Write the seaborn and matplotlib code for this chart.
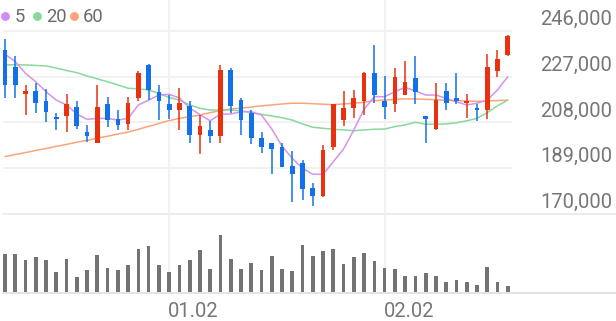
import matplotlib
matplotlib.use("Agg")
import matplotlib.pyplot as plt
from matplotlib.lines import Line2D
import seaborn as sns
import numpy as np
import pandas as pd

# ---------------- data ----------------
opens  = [238000, 231000, 220000, 221000, 217000, 210000, 210500, 214500, 204000, 199500,
          215500, 209500, 207500, 218000, 232000, 220500, 215500, 213000, 215000, 203000,
          205000, 202500, 230000, 217500, 212000, 201500, 199500, 198000, 190000, 191000,
          181000, 177500, 198000, 209000, 214000, 217000, 228500, 217000, 215500, 219500,
          226500, 210500, 205500, 221000, 218000, 216000, 214000, 213000, 229500, 236000]
highs  = [242500, 235500, 223500, 224500, 222000, 212000, 220000, 217000, 207000, 223500,
          218500, 213000, 218500, 229500, 232500, 223500, 219500, 222500, 217000, 211000,
          208500, 232000, 230500, 218000, 213000, 204000, 199500, 199500, 196000, 192500,
          183000, 198500, 215500, 221000, 221500, 229000, 240000, 227500, 230500, 233500,
          235500, 210500, 224500, 224500, 228500, 220000, 215500, 236500, 238000, 244500]
lows   = [218000, 218000, 211000, 212000, 208000, 205000, 204000, 205500, 200000, 199500,
          206000, 205000, 205000, 217000, 217500, 209000, 209500, 205000, 199500, 195000,
          199500, 199500, 212000, 203000, 199000, 195500, 186500, 189500, 175000, 176000,
          173500, 177000, 196500, 206500, 210000, 211000, 216000, 209500, 212500, 219500,
          215500, 199500, 205000, 213000, 215500, 210000, 208500, 209500, 227000, 235500]
closes = [223500, 223500, 221000, 216000, 212500, 209500, 215500, 206500, 202500, 214500,
          209000, 207000, 216000, 228500, 221500, 217000, 213000, 216000, 203000, 206500,
          202500, 230000, 215000, 209000, 201500, 198000, 197000, 189500, 186500, 180500,
          177500, 196500, 215500, 214000, 218000, 228500, 219500, 214500, 227000, 225000,
          220500, 209500, 217500, 216000, 217000, 216500, 213000, 231000, 234500, 244000]
volumes = [39.3, 38.6, 33.0, 35.6, 32.6, 21.0, 34.0, 16.3, 22.6, 37.6,
           25.0, 23.3, 28.3, 44.3, 47.3, 27.6, 21.3, 28.3, 33.3, 43.3,
           24.3, 58.0, 33.6, 24.0, 29.6, 23.0, 36.6, 24.3, 22.3, 48.3,
           37.0, 42.0, 44.0, 29.3, 36.0, 40.0, 32.0, 25.0, 24.3, 16.6,
           16.6, 20.3, 16.6, 11.0, 12.6, 10.6, 8.3, 26.3, 10.6, 6.6]
ma5  = [236400, 233300, 228400, 224900, 220800, 217300, 215300, 211500, 209300, 209700,
        209700, 209000, 209700, 215300, 217300, 219400, 219700, 218200, 214000, 211300,
        208700, 211500, 211500, 212500, 212500, 211100, 205300, 198200, 193100, 189000,
        186500, 186500, 191700, 197000, 204900, 213600, 218700, 218700, 220800, 222600,
        221100, 219400, 219400, 218000, 216600, 215300, 216000, 217300, 221500, 227000]
ma20 = [231900, 232000, 231900, 231700, 231500, 230600, 229600, 228700, 227300, 226100,
        224900, 223600, 222200, 222000, 221500, 220100, 218400, 217300, 215300, 213900,
        213200, 213200, 213200, 212800, 212100, 211400, 210700, 210000, 209000, 207400,
        206000, 205600, 205200, 204900, 204600, 204900, 205200, 205300, 206300, 207000,
        208100, 207300, 207300, 207400, 207900, 208700, 209700, 212100, 214900, 217300]
ma60 = [193800, 194700, 195500, 196400, 197200, 198100, 198900, 199800, 200600, 201500,
        202300, 203200, 204000, 205200, 206400, 207600, 208800, 209700, 210400, 211100,
        212100, 212900, 213600, 214000, 214400, 214900, 215300, 215700, 216000, 216000,
        215800, 215600, 215400, 215700, 216000, 216400, 217100, 217300, 217600, 217800,
        217800, 217600, 217500, 217200, 217100, 216900, 216800, 216900, 217100, 217300]
price_ticks = [246000, 227000, 208000, 189000, 170000]
date_labels = ["01.02", "02.02"]
date_index = [16, 37]
legend_labels = ["5", "20", "60"]

# ---------------- style ----------------
RED, BLUE, GRAY = "#e8310f", "#1271ea", "#737373"
C5, C20, C60 = "#d592ee", "#8ad89b", "#fba47c"
GRID = "#f1f1f1"
TXT = "#767676"

sns.set_theme(style="white")
plt.rcParams['font.family'] = ['Roboto', 'DejaVu Sans']

df = pd.DataFrame(dict(i=np.arange(len(opens)), o=opens, h=highs, l=lows, c=closes,
                       v=volumes, ma5=ma5, ma20=ma20, ma60=ma60))

W, H = 616, 321
fig = plt.figure(figsize=(W / 100, H / 100), dpi=100)
fig.patch.set_facecolor("white")

def rect(l, t, r, b):
    return [l / W, 1 - b / H, (r - l) / W, (b - t) / H]

ax = fig.add_axes(rect(3, 0, 616, 214))
axv = fig.add_axes(rect(3, 214, 616, 293))

step = 10.26
xmin = -2 / step
xmax = xmin + 613 / step
x_grid_end = xmin + (512 - 3) / step

# grid
for t in price_ticks[:-1]:
    ax.hlines(t, xmin, x_grid_end, color=GRID, lw=1.4, zorder=0)
ax.axhline(price_ticks[-1], color="#ececec", lw=1.4, zorder=0, clip_on=False)
for p in date_index:
    ax.axvline(p, color=GRID, lw=1.3, zorder=0)
    axv.axvline(p, color=GRID, lw=1.3, zorder=0)

# moving averages
sns.lineplot(data=df, x="i", y="ma60", ax=ax, color=C60, lw=1.1, zorder=2)
sns.lineplot(data=df, x="i", y="ma20", ax=ax, color=C20, lw=1.1, zorder=2)
sns.lineplot(data=df, x="i", y="ma5", ax=ax, color=C5, lw=1.1, zorder=2)

# candles
up = df.c >= df.o
cols = np.where(up, RED, BLUE)
ax.vlines(df.i, df.l, df.h, colors=cols, lw=1.1, zorder=3)
body = (df.c - df.o).abs().clip(lower=800)
ax.bar(df.i, body, bottom=np.minimum(df.o, df.c), width=0.46, color=cols, linewidth=0, zorder=4)

ax.set_xlim(xmin, xmax)
ax.set_ylim(170000, 170000 + 214 / 2.408 * 1000)

# volume
sns.barplot(data=df, x="i", y="v", ax=axv, native_scale=True, color=GRAY, width=0.36,
            saturation=1, errorbar=None, linewidth=0, zorder=2)
axv.axhline(0, color="#e3e3e3", lw=1.5, clip_on=False, zorder=3)
axv.set_xlim(xmin, xmax)
axv.set_ylim(0, 79)

for a in (ax, axv):
    a.set_facecolor("none")
    a.set_xticks([])
    a.set_yticks([])
    a.set_xlabel("")
    a.set_ylabel("")
    for s in a.spines.values():
        s.set_visible(False)

# price labels (right, above the grid lines)
for t in price_ticks:
    ax.annotate(f"{t:,}", xy=(1, t), xycoords=("axes fraction", "data"),
                xytext=(-4, 6), textcoords="offset pixels", ha="right", va="baseline",
                fontsize=14.5, color=TXT, annotation_clip=False)

# date labels
for lab, p in zip(date_labels, date_index):
    axv.annotate(lab, xy=(p, 0), xycoords=("data", "axes fraction"),
                 xytext=(-1, -23.7), textcoords="offset pixels", ha="left", va="baseline",
                 fontsize=14.5, color=TXT, annotation_clip=False)

# legend
leg_cols = ["#d08ef0", "#88d99a", "#fca57d"]
dot_x = [5.0, 37.0, 73.5]
txt_x = [14.5, 46.5, 83.0]
for lab, c, dx, tx in zip(legend_labels, leg_cols, dot_x, txt_x):
    fig.add_artist(Line2D([dx / W], [1 - 15.7 / H], marker="o", ms=6.4, color=c,
                          mec="none", transform=fig.transFigure))
    fig.text(tx / W, 1 - 21.9 / H, lab, ha="left", va="baseline", fontsize=13.2, color="#6a6a6a")

fig.savefig("out.png", dpi=100, facecolor="white")
